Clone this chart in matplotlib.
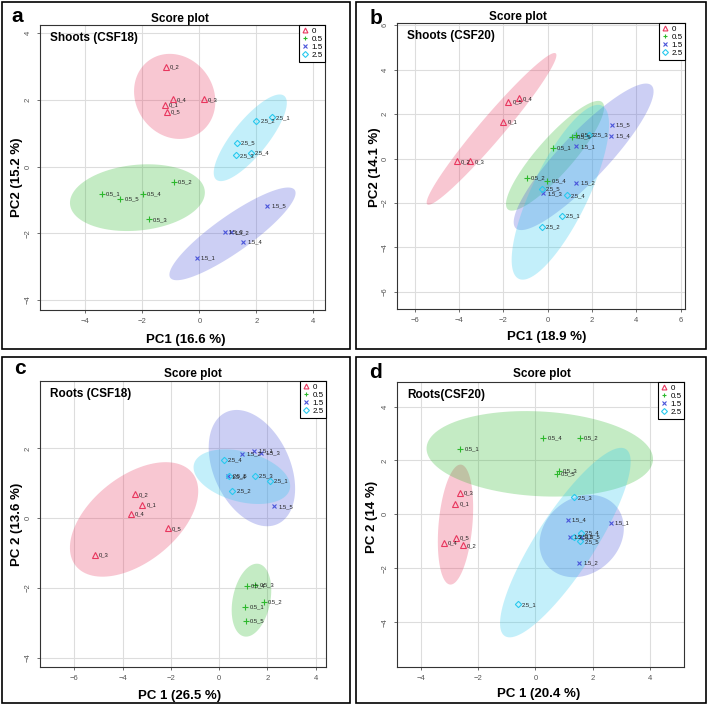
import numpy as np
import matplotlib
matplotlib.use('Agg')
import matplotlib.pyplot as plt
from matplotlib.patches import Polygon, Rectangle
from matplotlib.lines import Line2D

plt.rcParams['font.family'] = ['Liberation Sans', 'DejaVu Sans']

W = 708.0

groups = ['0', '0.5', '1.5', '2.5']
samples = [g + '_' + str(i) for g in groups for i in range(1, 6)]
colors = ['#E8365E', '#2DB82D', '#4A55DA', '#29C9EE']
markers = ['^', '+', 'x', 'D']

# order: 0_1..0_5, 0.5_1..0.5_5, 1.5_1..1.5_5, 2.5_1..2.5_5
shoots18_pc1 = [-1.22, -1.18, 0.16, -0.94, -1.14,
                -3.42, -0.90, -1.77, -1.99, -2.78,
                -0.09, 1.10, 0.89, 1.54, 2.38,
                2.54, 2.00, 1.28, 1.81, 1.31]
shoots18_pc2 = [1.85, 3.00, 2.02, 2.02, 1.65,
                -0.82, -0.46, -1.58, -0.82, -0.97,
                -2.73, -1.97, -1.95, -2.26, -1.17,
                1.48, 1.37, 0.34, 0.42, 0.72]

shoots20_pc1 = [-2.00, -4.10, -3.49, -1.31, -1.78,
                0.23, -0.95, 1.28, -0.02, 1.10,
                1.28, 1.28, -0.20, 2.85, 2.88,
                0.63, -0.27, 1.88, 0.87, -0.27]
shoots20_pc2 = [1.66, -0.13, -0.13, 2.71, 2.56,
                0.48, -0.88, 1.08, -1.02, 0.97,
                0.55, -1.11, -1.57, 1.02, 1.50,
                -2.58, -3.07, 1.08, -1.66, -1.35]

roots18_pc1 = [-3.19, -3.49, -5.15, -3.65, -2.13,
               1.09, 1.86, 1.50, 1.16, 1.10,
               1.45, 0.97, 1.75, 0.36, 2.27,
               2.11, 0.54, 1.48, 0.19, 0.40]
roots18_pc2 = [0.37, 0.68, -1.05, 0.12, -0.29,
               -2.54, -2.40, -1.92, -1.94, -2.93,
               1.92, 1.84, 1.88, 1.20, 0.34,
               1.06, 0.79, 1.21, 1.67, 1.22]

roots20_pc1 = [-2.79, -2.54, -2.64, -3.20, -2.78,
               -2.62, 1.54, 0.81, 0.27, 0.75,
               2.62, 1.53, 1.19, 1.12, 1.60,
               -0.61, 1.35, 1.33, 1.58, 1.56]
roots20_pc2 = [0.40, -1.15, 0.80, -1.06, -0.88,
               2.44, 2.83, 1.61, 2.84, 1.51,
               -0.33, -1.80, -0.83, -0.22, -0.83,
               -3.34, -0.83, 0.63, -0.69, -1.00]


def px(x, y):
    return x / W, 1 - y / W


def conf_ellipse(x, y, t=2.4477):
    # 95% ellipse from the group covariance
    cov = np.cov(x, y)
    vals, vecs = np.linalg.eigh(cov)
    a = np.linspace(0, 2 * np.pi, 120)
    circ = np.vstack([np.cos(a), np.sin(a)])
    pts = vecs @ (np.sqrt(vals)[:, None] * circ) * t
    return np.column_stack([pts[0] + np.mean(x), pts[1] + np.mean(y)])


def score_plot(fig, box, pc1, pc2, xlim, ylim, xticks, yticks, subtitle):
    l, t, r, b = box
    x0, y0 = px(l, b)
    ax = fig.add_axes([x0, y0, (r - l) / W, (b - t) / W])
    pc1 = np.array(pc1)
    pc2 = np.array(pc2)
    for k in range(4):
        sl = slice(k * 5, k * 5 + 5)
        ell = conf_ellipse(pc1[sl], pc2[sl])
        ax.add_patch(Polygon(ell, closed=True, facecolor=colors[k], alpha=0.28, edgecolor='none', zorder=1))
    for k in range(4):
        sl = slice(k * 5, k * 5 + 5)
        if markers[k] in ('^', 'D'):
            ax.plot(pc1[sl], pc2[sl], ls='none', marker=markers[k], mfc='none', mec=colors[k],
                    ms=4 if markers[k] == '^' else 3.2, mew=0.8, zorder=3)
        else:
            ax.plot(pc1[sl], pc2[sl], ls='none', marker=markers[k], color=colors[k],
                    ms=4.5 if markers[k] == '+' else 3.5, mew=0.8, zorder=3)
    for name, xv, yv in zip(samples, pc1, pc2):
        ax.annotate(name, (xv, yv), xytext=(3, 0), textcoords='offset points',
                    fontsize=4.2, va='center', color='#222222', zorder=4)
    ax.set_xlim(xlim)
    ax.set_ylim(ylim)
    ax.set_xticks(xticks)
    ax.set_yticks(yticks)
    ax.grid(color='#DDDDDD', lw=0.8)
    ax.set_axisbelow(True)
    ax.tick_params(labelsize=5.5, colors='#555555', length=2.5, width=0.6)
    plt.setp(ax.get_yticklabels(), rotation=90, va='center')
    for s in ax.spines.values():
        s.set_color('#333333')
        s.set_linewidth(0.8)
    handles = [Line2D([], [], ls='none', marker=markers[k], color=colors[k],
                      mfc='none' if markers[k] in ('^', 'D') else colors[k],
                      ms=3.5 if markers[k] != 'D' else 3, mew=0.8) for k in range(4)]
    leg = ax.legend(handles, groups, loc='upper right', borderaxespad=0, fancybox=False,
                    edgecolor='black', fontsize=5.8, handlelength=0.8, handletextpad=0.4,
                    borderpad=0.3, labelspacing=0.05, framealpha=1)
    leg.get_frame().set_linewidth(0.8)
    ax.text(10 / (r - l), 1 - 13 / (b - t), subtitle, transform=ax.transAxes,
            fontsize=8.5, fontweight='bold', va='center', ha='left')
    return ax


fig = plt.figure(figsize=(7.08, 7.08), dpi=100)

# panel frames
for (l, t, r, b) in [(2, 2, 350, 349), (356, 2, 706, 349), (2, 357, 350, 703), (356, 357, 706, 703)]:
    x0, y0 = px(l, b)
    fig.patches.append(Rectangle((x0, y0), (r - l) / W, (b - t) / W, transform=fig.transFigure,
                                 fill=False, edgecolor='black', lw=1.2))

score_plot(fig, (40, 25, 325, 310), shoots18_pc1, shoots18_pc2, (-5.59, 4.41), (-4.3, 4.25),
           [-4, -2, 0, 2, 4], [-4, -2, 0, 2, 4], 'Shoots (CSF18)')
score_plot(fig, (397, 23, 685, 309), shoots20_pc1, shoots20_pc2, (-6.8, 6.19), (-6.77, 6.1),
           [-6, -4, -2, 0, 2, 4, 6], [-6, -4, -2, 0, 2, 4, 6], 'Shoots (CSF20)')
score_plot(fig, (40, 381, 326, 667), roots18_pc1, roots18_pc2, (-7.42, 4.43), (-4.26, 3.93),
           [-6, -4, -2, 0, 2, 4], [-4, -2, 0, 2], 'Roots (CSF18)')
score_plot(fig, (397, 382, 684, 667), roots20_pc1, roots20_pc2, (-4.83, 5.18), (-5.66, 4.91),
           [-4, -2, 0, 2, 4], [-4, -2, 0, 2, 4], 'Roots(CSF20)')

texts = [
    ('a', 17, 17, 15, 0), ('b', 376, 19, 15, 0), ('c', 20, 368, 15, 0), ('d', 375, 373, 15, 0),
    ('Score plot', 180, 19, 8.5, 0), ('Score plot', 518, 17, 8.5, 0),
    ('Score plot', 193, 374, 8.5, 0), ('Score plot', 542, 374, 8.5, 0),
    ('PC1 (16.6 %)', 186, 340, 9.5, 0), ('PC2 (15.2 %)', 17, 177, 9.5, 90),
    ('PC1 (18.9 %)', 547, 337, 9.5, 0), ('PC2 (14.1 %)', 375, 167, 9.5, 90),
    ('PC 1 (26.5 %)', 180, 696, 9.5, 0), ('PC 2 (13.6 %)', 17, 524, 9.5, 90),
    ('PC 1 (20.4 %)', 539, 694, 9.5, 0), ('PC 2 (14 %)', 372, 517, 9.5, 90),
]
for s, x, y, fs, rot in texts:
    fx, fy = px(x, y)
    fig.text(fx, fy, s, fontsize=fs, fontweight='bold', ha='center', va='center', rotation=rot)

fig.savefig('out.png', dpi=100)
